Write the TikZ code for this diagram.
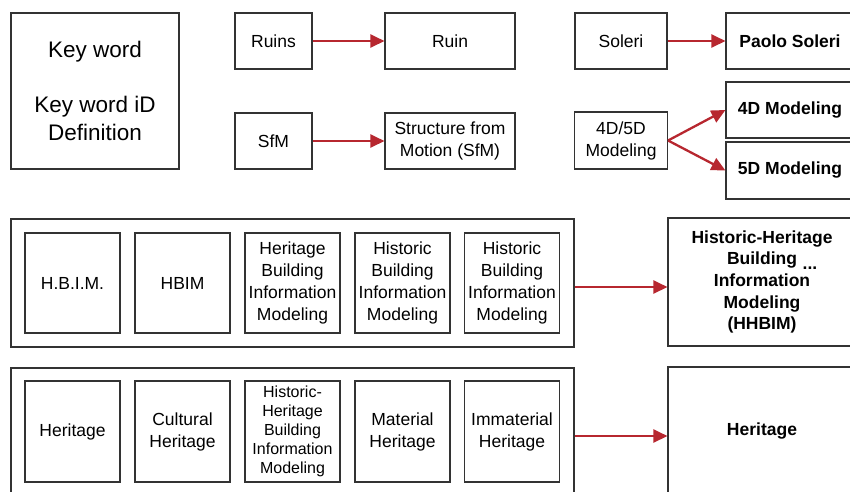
\documentclass[tikz,border=0pt]{standalone}
\usepackage{fontspec}
\setmainfont{Liberation Sans}
\usetikzlibrary{arrows.meta}
\definecolor{arrowred}{RGB}{183,39,47}

\begin{document}
\begin{tikzpicture}[x=1pt, y=-1pt,
  box/.style={draw=black!80, line width=1.1pt, align=center, inner sep=0pt,
    font=\fontsize{17.5}{22}\selectfont},
  boldbox/.style={box, font=\fontsize{17.5}{21.7}\selectfont\bfseries},
  smallbox/.style={box, minimum width=95pt, minimum height=100pt},
  redarrow/.style={draw=arrowred, line width=2.3pt, -{Triangle[length=14pt, width=13pt]}}]

\useasboundingbox (0,0) rectangle (850,491);

% legend
\node[box, minimum width=168pt, minimum height=156pt, font=\fontsize{22.5}{27.5}\selectfont] (key) at (95,91)
  {Key word\\[27.5pt]Key word iD\\Definition};

% top pairs
\node[box, minimum width=77pt, minimum height=56pt] (ruins) at (273.5,41) {Ruins};
\node[box, minimum width=130pt, minimum height=56pt] (ruin) at (450,41) {Ruin};
\node[box, minimum width=77pt, minimum height=56pt] (sfm) at (273.5,141) {SfM};
\node[box, minimum width=130pt, minimum height=56pt] (sfmlong) at (450,141) {Structure from\\Motion (SfM)};

\node[box, minimum width=92pt, minimum height=56pt] (soleri) at (621,41) {Soleri};
\node[boldbox, minimum width=128pt, minimum height=56pt] (paolo) at (790,41) {Paolo Soleri};
\node[box, minimum width=93pt, minimum height=57pt] (dd) at (621,140.5) {4D/5D\\Modeling};
\node[boldbox, minimum width=128pt, minimum height=56pt] (fourd) at (790,110) {4D Modeling};
\node[boldbox, minimum width=128pt, minimum height=57pt] (fived) at (790,170.5) {5D Modeling};

\draw[redarrow] (ruins) -- (ruin);
\draw[redarrow] (sfm) -- (sfmlong);
\draw[redarrow] (soleri) -- (paolo);
\draw[redarrow] (dd.east) -- (fourd.west);
\draw[redarrow] (dd.east) -- (fived.west);

% HBIM row
\node[box, minimum width=563pt, minimum height=128pt] (midrow) at (292.5,283) {};
\node[smallbox] (mid1) at (72.5,283) {H.B.I.M.};
\node[smallbox] (mid2) at (182.5,283) {HBIM};
\node[smallbox] (mid3) at (292.5,283) {Heritage\\Building\\Information\\Modeling};
\node[smallbox] (mid4) at (402.5,283) {Historic\\Building\\Information\\Modeling};
\node[smallbox] (mid5) at (512,283) {Historic\\Building\\Information\\Modeling};
\node[boldbox, minimum width=188pt, minimum height=128pt] (hhbim) at (762,282)
  {Historic-Heritage\\Building\\Information\\Modeling\\(HHBIM)};
\node[font=\fontsize{17.5}{17.5}\selectfont\bfseries, inner sep=0pt] (dots) at (810,268) {...};
\draw[redarrow] (midrow.east |- 0,287) -- (hhbim.west |- 0,287);

% heritage row
\node[box, minimum width=563pt, minimum height=128pt] (lowrow) at (292.5,432) {};
\node[smallbox, minimum height=101pt] (low1) at (72.5,431.5) {Heritage};
\node[smallbox, minimum height=101pt] (low2) at (182.5,431.5) {Cultural\\Heritage};
\node[smallbox, minimum height=101pt, font=\fontsize{16}{19}\selectfont] (low3) at (292.5,431.5)
  {Historic-\\Heritage\\Building\\Information\\Modeling};
\node[smallbox, minimum height=101pt] (low4) at (402.5,431.5) {Material\\Heritage};
\node[smallbox, minimum height=101pt] (low5) at (512,431.5) {Immaterial\\Heritage};
\node[boldbox, minimum width=188pt, minimum height=128pt] (heri) at (762,431) {Heritage};
\draw[redarrow] (lowrow.east |- 0,436) -- (heri.west |- 0,436);

\end{tikzpicture}
\end{document}
